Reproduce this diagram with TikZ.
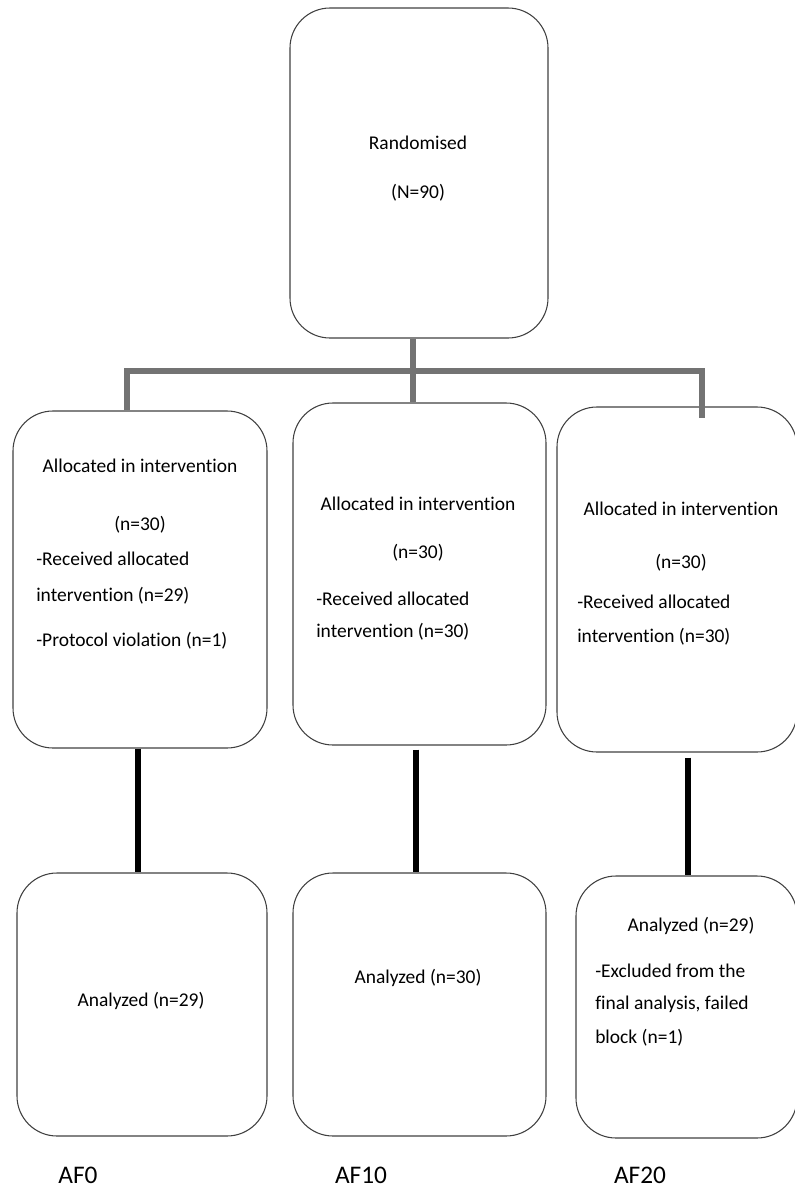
\documentclass[tikz,border=0pt]{standalone}
\usepackage{fontspec}
\setmainfont{Carlito}[Ligatures=NoCommon]
\usetikzlibrary{positioning, calc}

\begin{document}
\begin{tikzpicture}[
    x=0.75pt, y=-0.75pt,
    box/.style={rectangle, draw=black!75, line width=0.8pt, rounded corners=30pt, inner sep=0pt},
    txt/.style={inner sep=0pt, font=\fontsize{14.6}{24}\selectfont},
    tag/.style={inner sep=0pt, anchor=north, font=\fontsize{19}{23}\selectfont},
    trunk/.style={line width=4.5pt, draw=black!55},
    stem/.style={line width=4pt, draw=black}
]
    \useasboundingbox (0,0) rectangle (794,1189);

    % boxes
    \node [box, minimum width=193.5pt, minimum height=247.5pt] (rand) at (419,173) {};
    \node [box, minimum width=190.5pt, minimum height=252.75pt] (alloc0) at (140,579.5) {};
    \node [box, minimum width=189.75pt, minimum height=256.5pt] (alloc10) at (419.5,574) {};
    \node [box, minimum width=180pt, minimum height=258.75pt] (alloc20) at (677,579.5) {};
    \node [box, minimum width=187.5pt, minimum height=197.25pt] (anal0) at (142,1004.5) {};
    \node [box, minimum width=189.75pt, minimum height=197.25pt] (anal10) at (419.5,1004.5) {};
    \node [box, minimum width=165.75pt, minimum height=196.5pt] (anal20) at (686.5,1007) {};

    % texts
    \node [txt, anchor=north, align=center] (rand-txt) at (418,136) {Randomised\\[12.75pt](N=90)};
    \node [txt, anchor=north, align=center] (alloc0-head) at (140,459) {Allocated in intervention\\[19.5pt](n=30)};
    \node [txt, anchor=north west, align=left] (alloc0-info) at (36,552) {-Received allocated\\[3pt]intervention (n=29)\\[9.75pt]-Protocol violation (n=1)};
    \node [txt, anchor=north, align=center] (alloc10-head) at (418,497) {Allocated in intervention\\[12pt](n=30)};
    \node [txt, anchor=north west, align=left] (alloc10-info) at (316,592) {-Received allocated\\intervention (n=30)};
    \node [txt, anchor=north, align=center] (alloc20-head) at (681,502) {Allocated in intervention\\[15.75pt](n=30)};
    \node [txt, anchor=north west, align=left] (alloc20-info) at (577,595) {-Received allocated\\[1.5pt]intervention (n=30)};
    \node [txt, anchor=north] (anal0-txt) at (141,992) {Analyzed (n=29)};
    \node [txt, anchor=north] (anal10-txt) at (418,969) {Analyzed (n=30)};
    \node [txt, anchor=north] (anal20-head) at (691,917) {Analyzed (n=29)};
    \node [txt, anchor=north west, align=left] (anal20-info) at (595,964) {-Excluded from the\\final analysis, failed\\[1.5pt]block (n=1)};

    \node [tag] (af0) at (78,1167) {AF0};
    \node [tag] (af10) at (361,1167) {AF10};
    \node [tag] (af20) at (640,1167) {AF20};

    % connectors
    \coordinate (split) at (413,371);
    \draw [trunk] ([xshift=-4.5pt]rand.south) -- ([xshift=-4.5pt]rand.south |- alloc10.north);
    \draw [trunk] ([xshift=-9.75pt]alloc0.north) |- (split) -| ([xshift=18.75pt,yshift=-9pt]alloc20.north);

    \draw [stem] ([xshift=-1.5pt]alloc0.south) -- ([xshift=-1.5pt]alloc0.south |- anal0.north);
    \draw [stem] ([xshift=-2.6pt,yshift=-3pt]alloc10.south) -- ([xshift=-2.6pt]alloc10.south |- anal10.north);
    \draw [stem, shorten <=3.75pt] ([xshift=8.25pt]alloc20.south) -- ([xshift=8.25pt]alloc20.south |- anal20.north);
\end{tikzpicture}
\end{document}
